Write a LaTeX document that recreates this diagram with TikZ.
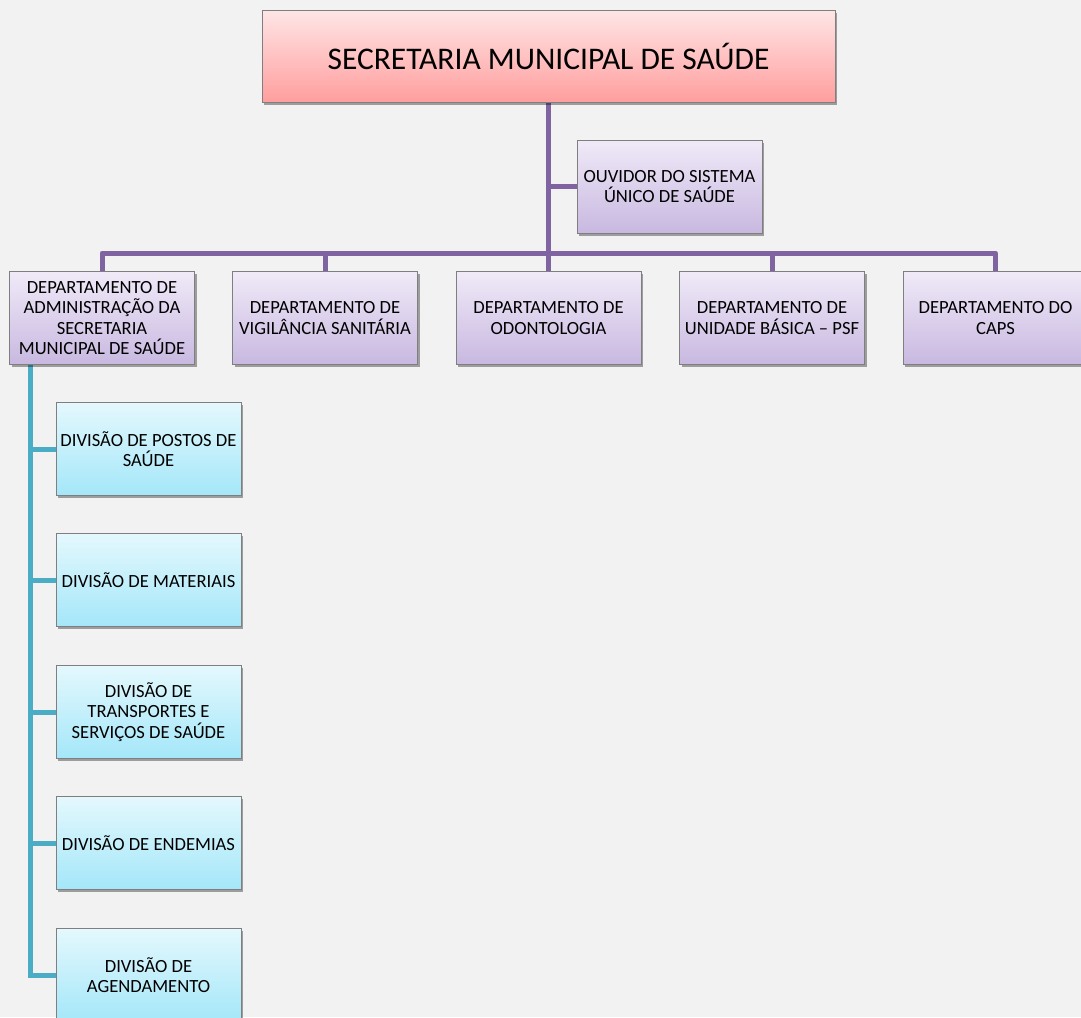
\documentclass[tikz,border=0pt]{standalone}
\usepackage{fontspec}
\setmainfont{Carlito}
\usetikzlibrary{shadows}
\pgfdeclarelayer{bglines}
\pgfsetlayers{bglines,main}
\definecolor{bgc}{HTML}{F2F2F2}
\definecolor{purpline}{HTML}{8064A2}
\definecolor{cyanline}{HTML}{4BACC6}
\definecolor{boxedge}{HTML}{7F7F7F}
\tikzset{
  basebox/.style={rectangle, draw=boxedge, line width=0.8pt, minimum width=185pt, minimum height=93pt,
    inner sep=1pt, align=center, text=black,
    drop shadow={shadow xshift=2pt, shadow yshift=-2.5pt, opacity=0.35, fill=black}},
  topbox/.style={basebox, minimum width=573pt, minimum height=92pt, top color=red!10, bottom color={rgb,255:red,255;green,158;blue,158},
    font=\fontsize{31.5}{36}\selectfont},
  deptbox/.style={basebox, top color={rgb,255:red,240;green,234;blue,248}, bottom color={rgb,255:red,200;green,184;blue,224},
    font=\fontsize{18.6}{20.5}\selectfont},
  divbox/.style={basebox, top color={rgb,255:red,228;green,248;blue,253}, bottom color={rgb,255:red,164;green,231;blue,249},
    font=\fontsize{18.6}{20.5}\selectfont},
  pline/.style={draw=purpline, line width=5pt},
  cline/.style={draw=cyanline, line width=5pt},
}
\begin{document}
\begin{tikzpicture}[x=1pt,y=-1pt]
\begin{pgfonlayer}{bglines}
\fill[bgc] (0,0) rectangle (1081,1017);
\end{pgfonlayer}
\useasboundingbox (0,0) rectangle (1081,1017);

\node[topbox] (top) at (548.5,56) {SECRETARIA MUNICIPAL DE SAÚDE};
\node[deptbox] (ouv) at (669.5,186.5) {OUVIDOR DO SISTEMA\\ÚNICO DE SAÚDE};
\node[deptbox] (d1) at (102,318) {DEPARTAMENTO DE\\ADMINISTRAÇÃO DA\\SECRETARIA\\MUNICIPAL DE SAÚDE};
\node[deptbox] (d2) at (325,318) {DEPARTAMENTO DE\\VIGILÂNCIA SANITÁRIA};
\node[deptbox] (d3) at (548.5,318) {DEPARTAMENTO DE\\ODONTOLOGIA};
\node[deptbox] (d4) at (772,318) {DEPARTAMENTO DE\\UNIDADE BÁSICA – PSF};
\node[deptbox] (d5) at (995.5,318) {DEPARTAMENTO DO\\CAPS};

\node[divbox] (v1) at (148.5,449) {DIVISÃO DE POSTOS DE\\SAÚDE};
\node[divbox] (v2) at (148.5,580) {DIVISÃO DE MATERIAIS};
\node[divbox] (v3) at (148.5,712) {DIVISÃO DE\\TRANSPORTES E\\SERVIÇOS DE SAÚDE};
\node[divbox] (v4) at (148.5,843) {DIVISÃO DE ENDEMIAS};
\node[divbox] (v5) at (148.5,975) {DIVISÃO DE\\AGENDAMENTO};

\coordinate (bar) at (548.5,253);
\coordinate (ct) at (30,365);

\begin{pgfonlayer}{bglines}
% purple connectors
\draw[pline] (top.south) -- (bar);
\draw[pline] (ouv.west) -- (ouv.west -| top.south);
\draw[pline, line join=round] (d1.north) |- (bar) -| (d5.north);
\foreach \d in {d2,d3,d4} \draw[pline] (\d.north) -- (\d.north |- bar);
% cyan connectors
\draw[cline] (ct) |- (v5.west);
\foreach \v in {v1,v2,v3,v4} \draw[cline] (\v.west) -- (\v.west -| ct);
\end{pgfonlayer}
\end{tikzpicture}
\end{document}
